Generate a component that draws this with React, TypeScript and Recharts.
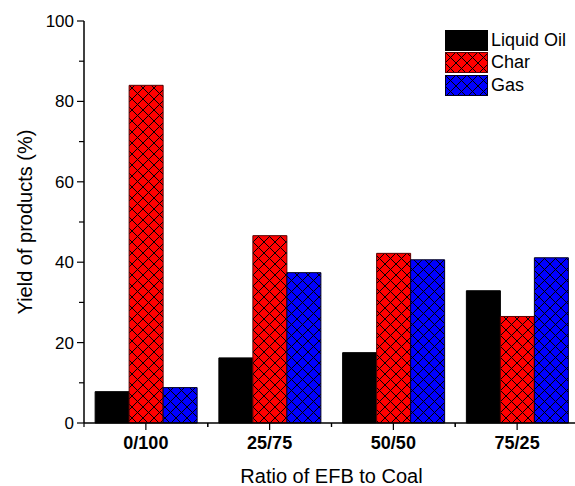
import { BarChart, Bar, XAxis, YAxis, Legend, Label } from "recharts";

const RATIOS = ["0/100", "25/75", "50/50", "75/25"];
const LIQUID_OIL = [7.8, 16.2, 17.5, 32.9];
const CHAR = [84.0, 46.6, 42.2, 26.5];
const GAS = [8.8, 37.4, 40.6, 41.1];
const SERIES_NAMES = ["Liquid Oil", "Char", "Gas"];
const Y_TICKS = [0, 10, 20, 30, 40, 50, 60, 70, 80, 90, 100];

const FONT = "Arial, 'Liberation Sans', sans-serif";

const data = RATIOS.map((ratio, i) => ({
  ratio,
  oil: LIQUID_OIL[i],
  char: CHAR[i],
  gas: GAS[i],
}));

const YTick = ({ x, y, payload }: any) => {
  const major = payload.value % 20 === 0;
  return (
    <g>
      <line x1={x - (major ? 7 : 5)} x2={x} y1={y} y2={y} stroke="#000" strokeWidth={1.2} />
      {major && (
        <text x={x - 10} y={y} dy="0.35em" textAnchor="end" fontSize={17} fontFamily={FONT} fill="#000">
          {payload.value}
        </text>
      )}
    </g>
  );
};

const XTick = ({ x, y, payload }: any) => {
  const off = payload.offset ?? 0;
  return (
    <g>
      <line x1={x} x2={x} y1={y} y2={y + 7} stroke="#000" strokeWidth={1.2} />
      <line x1={x - off} x2={x - off} y1={y} y2={y + 4} stroke="#000" strokeWidth={1.2} />
      <line x1={x + off} x2={x + off} y1={y} y2={y + 4} stroke="#000" strokeWidth={1.2} />
      <text x={x} y={y + 20} dy="0.35em" textAnchor="middle" fontSize={18} fontWeight="bold" fontFamily={FONT} fill="#000">
        {payload.value}
      </text>
    </g>
  );
};

const XTitle = ({ viewBox }: any) => (
  <text x={viewBox.x + viewBox.width / 2} y={viewBox.y + 53} dy="0.35em" textAnchor="middle" fontSize={20} fontFamily={FONT} fill="#000">
    Ratio of EFB to Coal
  </text>
);

const YTitle = ({ viewBox }: any) => {
  const cx = 25;
  const cy = viewBox.y + viewBox.height / 2;
  return (
    <text x={cx} y={cy} dy="0.35em" textAnchor="middle" fontSize={20} fontFamily={FONT} fill="#000" transform={`rotate(-90 ${cx} ${cy})`}>
      Yield of products (%)
    </text>
  );
};

// keep the series order, recharts sorts legend items by name
const LegendBox = ({ payload }: any) => {
  const items = [...(payload || [])].sort(
    (a: any, b: any) => SERIES_NAMES.indexOf(a.value) - SERIES_NAMES.indexOf(b.value)
  );
  return (
    <div style={{ fontFamily: FONT, fontSize: 18, color: "#000" }}>
      {items.map((entry: any) => (
        <div key={entry.value} style={{ display: "flex", alignItems: "center", height: 22.5 }}>
          <svg width={43} height={21} style={{ display: "block" }}>
            <rect x={0.5} y={0.5} width={42} height={20} fill={entry.color} stroke={entry.payload?.stroke ?? "#000"} />
          </svg>
          <span style={{ marginLeft: 3 }}>{entry.value}</span>
        </div>
      ))}
    </div>
  );
};

export default function App() {
  return (
    <div style={{ position: "absolute", left: 0, top: 0, width: 575, height: 486, overflow: "hidden", background: "#fff" }}>
      <BarChart
        width={584}
        height={486}
        data={data}
        margin={{ top: 21, right: 5, left: 0, bottom: 0 }}
        barCategoryGap="9%"
        barGap={0}
      >
        <defs>
          <pattern id="hatchRed" patternUnits="userSpaceOnUse" width={11} height={11}>
            <rect width={11} height={11} fill="#ff0000" />
            <path d="M0,0 L11,11 M11,0 L0,11" stroke="#000" strokeWidth={1} />
          </pattern>
          <pattern id="hatchBlue" patternUnits="userSpaceOnUse" width={11} height={11}>
            <rect width={11} height={11} fill="#0000ff" />
            <path d="M0,0 L11,11 M11,0 L0,11" stroke="#000" strokeWidth={1} />
          </pattern>
        </defs>
        <XAxis
          dataKey="ratio"
          height={63}
          stroke="#000"
          strokeWidth={1.5}
          tickLine={false}
          tickSize={0}
          tickMargin={0}
          tick={<XTick />}
          interval={0}
          label={<Label content={<XTitle />} />}
        />
        <YAxis
          width={84}
          domain={[0, 100]}
          ticks={Y_TICKS}
          interval={0}
          stroke="#000"
          strokeWidth={1.5}
          tickLine={false}
          tickSize={0}
          tickMargin={0}
          tick={<YTick />}
          label={<Label content={<YTitle />} />}
        />
        <Legend
          layout="vertical"
          verticalAlign="middle"
          align="center"
          content={<LegendBox />}
          wrapperStyle={{ top: 29, left: 445, width: "auto" }}
        />
        <Bar dataKey="oil" name="Liquid Oil" fill="#000000" stroke="#000" isAnimationActive={false} />
        <Bar dataKey="char" name="Char" fill="url(#hatchRed)" stroke="#5a0000" isAnimationActive={false} />
        <Bar dataKey="gas" name="Gas" fill="url(#hatchBlue)" stroke="#000022" isAnimationActive={false} />
      </BarChart>
    </div>
  );
}
